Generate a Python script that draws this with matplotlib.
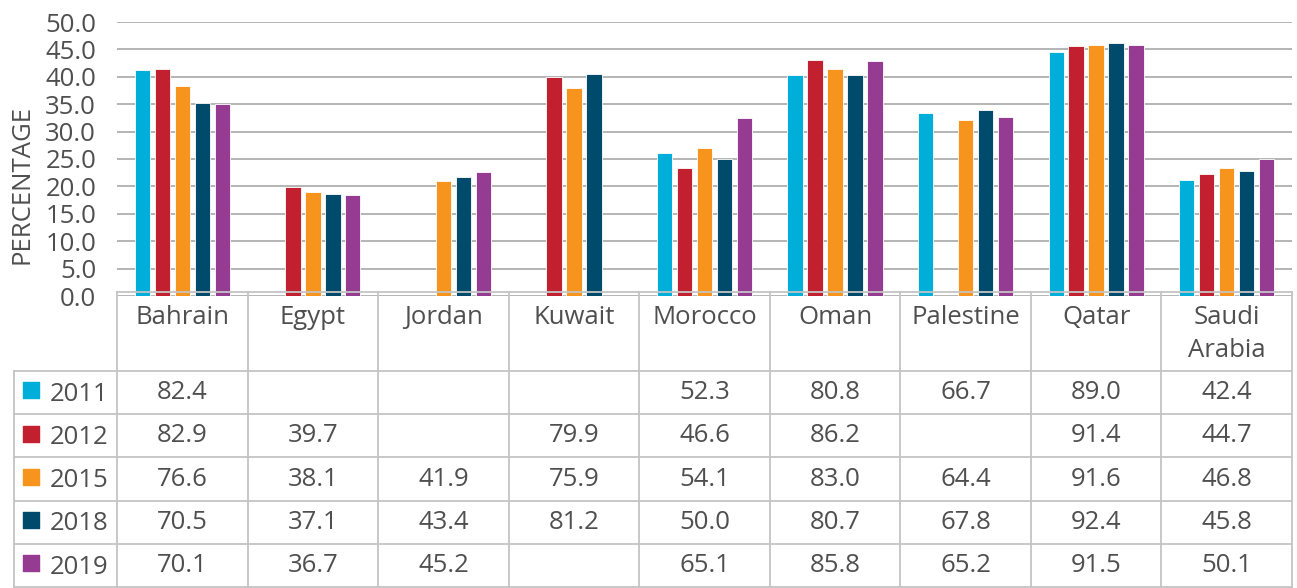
import numpy as np
import matplotlib.pyplot as plt

plt.rcParams['font.family'] = ['Open Sans', 'DejaVu Sans']

countries = ['Bahrain', 'Egypt', 'Jordan', 'Kuwait', 'Morocco', 'Oman', 'Palestine', 'Qatar', 'Saudi\nArabia']
years = ['2011', '2012', '2015', '2018', '2019']
v2011 = [82.4, None, None, None, 52.3, 80.8, 66.7, 89.0, 42.4]
v2012 = [82.9, 39.7, None, 79.9, 46.6, 86.2, None, 91.4, 44.7]
v2015 = [76.6, 38.1, 41.9, 75.9, 54.1, 83.0, 64.4, 91.6, 46.8]
v2018 = [70.5, 37.1, 43.4, 81.2, 50.0, 80.7, 67.8, 92.4, 45.8]
v2019 = [70.1, 36.7, 45.2, None, 65.1, 85.8, 65.2, 91.5, 50.1]
series = [v2011, v2012, v2015, v2018, v2019]
colors = ['#00AEDA', '#C3202F', '#F7941D', '#004A6B', '#953C92']

# bars in the original are drawn at half of the table value
bar_scale = 0.5

txt = '#4f4f4f'
grid_c = '#b4b4b4'
line_c = '#c4c4c4'
fs = 18.5

fig = plt.figure(figsize=(12.97, 5.88), dpi=100)

# --- bar chart ---
ax = fig.add_axes([117/1297, 1-296/588, 1175/1297, 274/588])
x = np.arange(len(countries))
pitch = 0.153
width = 0.118
for i, (vals, col) in enumerate(zip(series, colors)):
    h = np.array([np.nan if v is None else v * bar_scale for v in vals])
    m = ~np.isnan(h)
    ax.bar(x[m] + (i - 2) * pitch, h[m], width, color=col, edgecolor='white', linewidth=0.6, zorder=3)

ax.set_xlim(-0.5, len(countries) - 0.5)
ax.set_ylim(0, 50)
ax.set_yticks(np.arange(0, 50.1, 5))
ax.set_yticklabels([f'{t:.1f}' for t in np.arange(0, 50.1, 5)], fontsize=fs, color=txt)
ax.set_xticks([])
ax.tick_params(axis='y', length=0, pad=15)
ax.yaxis.grid(True, color=grid_c, linewidth=1.4)
for s in ax.spines.values():
    s.set_visible(False)
fig.text(22/1297, 1-184/588, 'PERCENTAGE', rotation=90, ha='center', va='center', fontsize=fs, color=txt)

# --- data table ---
row_px = 43.2
tab_h = 295 / row_px
head_y = 5
axt = fig.add_axes([14/1297, 1/588, 1278/1297, 295/588])
left = -0.5 - 103/130.56
axt.set_xlim(left, len(countries) - 0.5)
axt.set_ylim(0, tab_h)
axt.axis('off')

for r in range(6):
    axt.plot([left, len(countries) - 0.5], [r, r], color=line_c, lw=1.3, clip_on=False)
axt.plot([-0.5, len(countries) - 0.5], [tab_h, tab_h], color=line_c, lw=1.3, clip_on=False)
axt.plot([left, left], [0, head_y], color=line_c, lw=1.3, clip_on=False)
for c in range(len(countries) + 1):
    axt.plot([c - 0.5, c - 0.5], [0, tab_h], color=line_c, lw=1.3, clip_on=False)

for c, name in enumerate(countries):
    axt.text(c, tab_h - 0.3, name, ha='center', va='top', fontsize=fs, color=txt, linespacing=1.4)

for r, (yr, vals, col) in enumerate(zip(years, series, colors)):
    yc = head_y - r - 0.5
    axt.scatter([left + 0.13], [yc + 0.05], marker='s', s=130, color=col, clip_on=False)
    axt.text(left + 0.27, yc - 0.04, yr, ha='left', va='center', fontsize=fs, color=txt)
    for c, v in enumerate(vals):
        if v is not None:
            axt.text(c, yc, f'{v:.1f}', ha='center', va='center', fontsize=fs, color=txt)

fig.savefig('out.png', dpi=100)
